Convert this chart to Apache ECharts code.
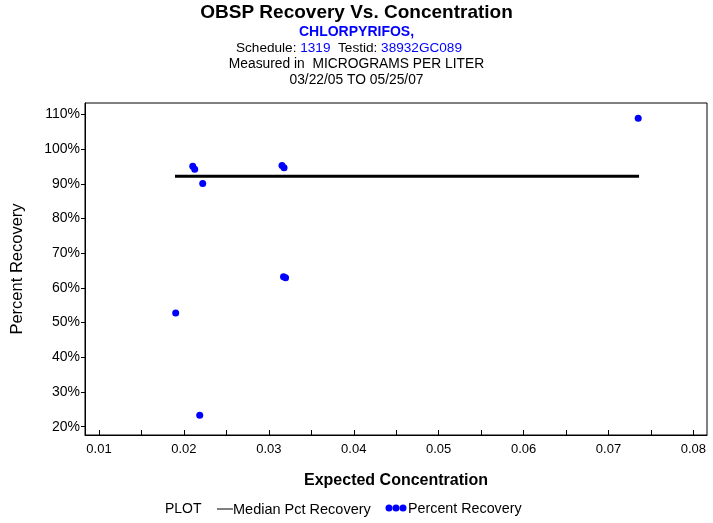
<!DOCTYPE html>
<html>
<head>
<meta charset="utf-8">
<script src="https://cdn.jsdelivr.net/npm/echarts@6/dist/echarts.min.js"></script>
<style>
html,body{margin:0;padding:0;background:#fff;}
#chart{width:713px;height:523px;}
</style>
</head>
<body>
<div id="chart"></div>
<script>
// Data
const concX = [0.0735, 0.02104, 0.02127, 0.02221, 0.03155, 0.03179, 0.03173, 0.03197, 0.01903, 0.02186];
const pctY  = [108.9, 95.1, 94.2, 90.1, 95.3, 94.6, 63.2, 62.9, 52.8, 23.3];
const medianX = [0.01895, 0.0736];
const medianY = [92.2, 92.2];
const xTickLabels = [0.01, 0.02, 0.03, 0.04, 0.05, 0.06, 0.07, 0.08];
const xMinorTicks = [0.01, 0.015, 0.02, 0.025, 0.03, 0.035, 0.04, 0.045, 0.05, 0.055, 0.06, 0.065, 0.07, 0.075, 0.08];
const yTickLabels = [20, 30, 40, 50, 60, 70, 80, 90, 100, 110];

const FONT = '"Liberation Sans", Arial, sans-serif';
const chart = echarts.init(document.getElementById('chart'), null, {renderer: 'canvas'});

const option = {
  backgroundColor: '#ffffff',
  animation: false,
  graphic: [
    {type: 'text', left: 'center', top: 3, style: {text: 'OBSP Recovery Vs. Concentration', fontFamily: FONT, fontSize: 19, fontWeight: 'bold', fill: '#000'}},
    {type: 'text', left: 'center', top: 25, style: {text: 'CHLORPYRIFOS,', fontFamily: FONT, fontSize: 14, fontWeight: 'bold', fill: '#0000ff'}},
    {type: 'text', left: 236, top: 41, style: {
      text: '{k|Schedule: }{v|1319}{k|  Testid: }{v|38932GC089}',
      rich: {k: {fontFamily: FONT, fontSize: 13.6, fill: '#000'}, v: {fontFamily: FONT, fontSize: 13.6, fill: '#0000ff'}}
    }},
    {type: 'text', left: 'center', top: 57, style: {text: 'Measured in  MICROGRAMS PER LITER', fontFamily: FONT, fontSize: 13.8, fill: '#000'}},
    {type: 'text', left: 'center', top: 73, style: {text: '03/22/05 TO 05/25/07', fontFamily: FONT, fontSize: 13.8, fill: '#000'}},
    // legend
    {type: 'text', left: 165, top: 502, style: {text: 'PLOT', fontFamily: FONT, fontSize: 14, fill: '#000'}},
    {type: 'line', shape: {x1: 217, y1: 509, x2: 233, y2: 509}, style: {stroke: '#000', lineWidth: 1}},
    {type: 'text', left: 233, top: 502, style: {text: 'Median Pct Recovery', fontFamily: FONT, fontSize: 14.5, fill: '#000'}},
    {type: 'circle', shape: {cx: 389, cy: 508, r: 3.5}, style: {fill: '#0000ff'}},
    {type: 'circle', shape: {cx: 396, cy: 508, r: 3.5}, style: {fill: '#0000ff'}},
    {type: 'circle', shape: {cx: 403, cy: 508, r: 3.5}, style: {fill: '#0000ff'}},
    {type: 'text', left: 408, top: 502, style: {text: 'Percent Recovery', fontFamily: FONT, fontSize: 14.3, fill: '#000'}},
    // top and right border of plot box
    {type: 'rect', shape: {x: 85, y: 103, width: 622, height: 332}, style: {fill: 'none', stroke: '#000', lineWidth: 1}, z: 10}
  ],
  grid: {left: 85, top: 103, width: 622, height: 332, containLabel: false, outerBoundsMode: 'none', show: false},
  xAxis: {
    type: 'value', min: 0.00835, max: 0.0816,
    name: 'Expected Concentration', nameLocation: 'middle', nameGap: 38,
    nameTextStyle: {fontFamily: FONT, fontSize: 16, fontWeight: 'bold', color: '#000'},
    axisLine: {show: true, onZero: false, lineStyle: {color: '#000', width: 1}},
    axisTick: {show: true, inside: true, length: 5, customValues: xMinorTicks, lineStyle: {color: '#000'}},
    axisLabel: {show: true, customValues: xTickLabels, margin: 8, fontFamily: FONT, fontSize: 13, color: '#000',
      formatter: v => String(Math.round(v * 100) / 100)},
    splitLine: {show: false}
  },
  yAxis: {
    type: 'value', min: 17.6, max: 113.3,
    name: 'Percent Recovery', nameLocation: 'middle', nameGap: 59, nameRotate: 90,
    nameTextStyle: {fontFamily: FONT, fontSize: 16.5, color: '#000'},
    axisLine: {show: true, onZero: false, lineStyle: {color: '#000', width: 1}},
    axisTick: {show: true, inside: false, length: 4, customValues: yTickLabels, lineStyle: {color: '#000'}},
    axisLabel: {show: true, customValues: yTickLabels, margin: 5, fontFamily: FONT, fontSize: 14, color: '#000',
      formatter: v => Math.round(v) + '%'},
    splitLine: {show: false}
  },
  series: [
    {
      name: 'Median Pct Recovery', type: 'line', symbol: 'none',
      data: medianX.map((x, i) => [x, medianY[i]]),
      lineStyle: {color: '#000', width: 3}, z: 2
    },
    {
      name: 'Percent Recovery', type: 'scatter', symbol: 'circle', symbolSize: 7,
      data: concX.map((x, i) => [x, pctY[i]]),
      itemStyle: {color: '#0000ff', opacity: 1}, z: 3
    }
  ]
};
chart.setOption(option);
</script>
</body>
</html>
